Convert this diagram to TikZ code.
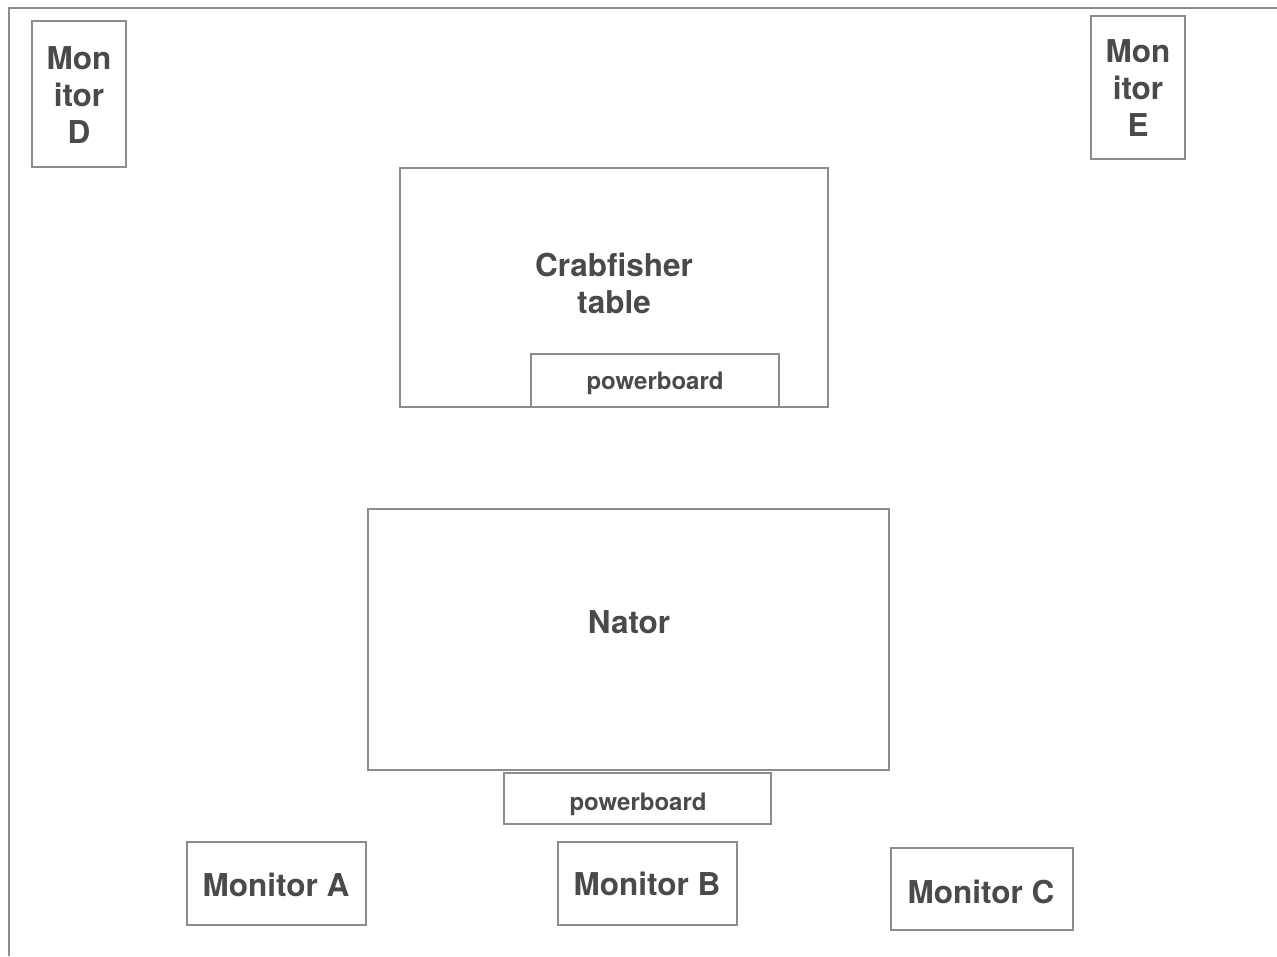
\documentclass[tikz,border=0pt]{standalone}
\usepackage{fontspec}
\setmainfont{TeX Gyre Heros}
\definecolor{wallgray}{HTML}{8A8C90}
\definecolor{textgray}{HTML}{4A4A4A}
\tikzset{
  thing/.style={draw=wallgray,line width=2pt},
  biglabel/.style={text=textgray,font=\bfseries\fontsize{31.5}{37}\selectfont,align=center,inner sep=0pt},
  smalllabel/.style={text=textgray,font=\bfseries\fontsize{24}{28}\selectfont,inner sep=0pt}
}
\begin{document}
\begin{tikzpicture}[x=1pt,y=-1pt]
  \useasboundingbox (0,0) rectangle (1277,956);
  % walls
  \draw[thing] (9,956) -- (9,8) -- (1277,8);
  % monitors on the wall
  \draw[thing] (32,21) rectangle (126,167);
  \node[biglabel] (monD) at (79,95) {Mon\\itor\\D};
  \draw[thing] (1091,16) rectangle (1185,159);
  \node[biglabel] (monE) at (1138,88) {Mon\\itor\\E};
  % tables
  \draw[thing] (400,168) rectangle (828,407);
  \node[biglabel] (crab) at (614,283) {Crabfisher\\table};
  \draw[thing,fill=white] (531,354) rectangle (779,407);
  \node[smalllabel] (pbone) at (655,383) {powerboard};
  \draw[thing] (368,509) rectangle (889,770);
  \node[biglabel] (nator) at (629,622) {Nator};
  \draw[thing] (504,773) rectangle (771,824);
  \node[smalllabel] (pbtwo) at (638,804) {powerboard};
  % monitors at the front
  \draw[thing] (187,842) rectangle (366,925);
  \node[biglabel] (monA) at (276,885) {Monitor A};
  \draw[thing] (558,842) rectangle (737,925);
  \node[biglabel] (monB) at (647,884) {Monitor B};
  \draw[thing] (891,848) rectangle (1073,930);
  \node[biglabel] (monC) at (981,892) {Monitor C};
\end{tikzpicture}
\end{document}
